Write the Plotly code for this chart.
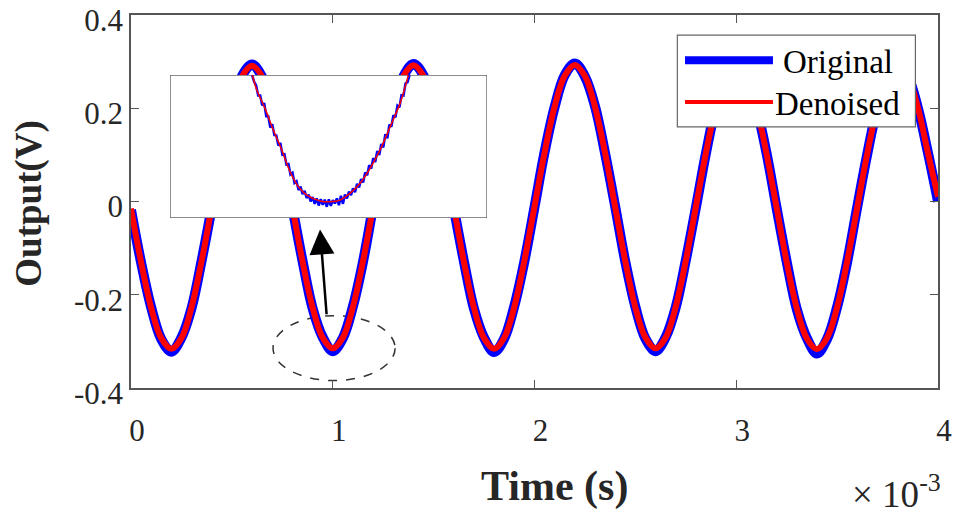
import plotly.graph_objects as go

# main trace, time in ms (axis shows x 10^-3 s)
time_ms = [
    0.00, 0.05, 0.10, 0.15, 0.20, 0.25, 0.30, 0.35, 0.40, 0.45, 0.50, 0.55, 0.60, 0.65, 0.70, 0.75,
    0.80, 0.85, 0.90, 0.95, 1.00, 1.05, 1.10, 1.15, 1.20, 1.25, 1.30, 1.35, 1.40, 1.45, 1.50, 1.55,
    1.60, 1.65, 1.70, 1.75, 1.80, 1.85, 1.90, 1.95, 2.00, 2.05, 2.10, 2.15, 2.20, 2.25, 2.30, 2.35,
    2.40, 2.45, 2.50, 2.55, 2.60, 2.65, 2.70, 2.75, 2.80, 2.85, 2.90, 2.95, 3.00, 3.05, 3.10, 3.15,
    3.20, 3.25, 3.30, 3.35, 3.40, 3.45, 3.50, 3.55, 3.60, 3.65, 3.70, 3.75, 3.80, 3.85, 3.90, 3.95,
    4.00,
]
original_v = [
    -0.018, -0.131, -0.227, -0.295, -0.322, -0.292, -0.229, -0.127, -0.014, 0.105, 0.201, 0.269, 0.294, 0.267, 0.204, 0.103,
    -0.013, -0.127, -0.229, -0.291, -0.321, -0.293, -0.225, -0.129, -0.011, 0.103, 0.204, 0.268, 0.295, 0.270, 0.202, 0.105,
    -0.014, -0.128, -0.230, -0.292, -0.323, -0.294, -0.224, -0.128, -0.012, 0.106, 0.203, 0.271, 0.296, 0.268, 0.204, 0.103,
    -0.011, -0.129, -0.226, -0.294, -0.321, -0.291, -0.227, -0.126, -0.013, 0.104, 0.204, 0.268, 0.295, 0.269, 0.201, 0.104,
    -0.014, -0.129, -0.231, -0.293, -0.326, -0.295, -0.226, -0.129, -0.011, 0.103, 0.203, 0.267, 0.294, 0.269, 0.201, 0.105,
    0.000,
]
denoised_v = [
    -0.015, -0.130, -0.228, -0.293, -0.316, -0.293, -0.227, -0.128, -0.013, 0.104, 0.202, 0.268, 0.291, 0.268, 0.203, 0.105,
    -0.012, -0.128, -0.227, -0.292, -0.315, -0.292, -0.226, -0.128, -0.012, 0.104, 0.203, 0.269, 0.292, 0.269, 0.203, 0.104,
    -0.012, -0.129, -0.228, -0.293, -0.316, -0.292, -0.226, -0.127, -0.011, 0.105, 0.204, 0.270, 0.293, 0.269, 0.203, 0.104,
    -0.012, -0.128, -0.227, -0.292, -0.315, -0.292, -0.226, -0.127, -0.011, 0.105, 0.203, 0.269, 0.292, 0.268, 0.202, 0.103,
    -0.013, -0.130, -0.229, -0.294, -0.317, -0.293, -0.227, -0.128, -0.012, 0.104, 0.202, 0.268, 0.291, 0.268, 0.202, 0.104,
    0.010,
]

# zoomed inset (valley around t = 1 ms)
inset_time_ms = [
    0.60, 0.61, 0.62, 0.63, 0.64, 0.65, 0.66, 0.67, 0.68, 0.69, 0.70, 0.71, 0.72, 0.73, 0.74, 0.75,
    0.76, 0.77, 0.78, 0.79, 0.80, 0.81, 0.82, 0.83, 0.84, 0.85, 0.86, 0.87, 0.88, 0.89, 0.90, 0.91,
    0.92, 0.93, 0.94, 0.95, 0.96, 0.97, 0.98, 0.99, 1.00, 1.01, 1.02, 1.03, 1.04, 1.05, 1.06, 1.07,
    1.08, 1.09, 1.10, 1.11, 1.12, 1.13, 1.14, 1.15, 1.16, 1.17, 1.18, 1.19, 1.20, 1.21, 1.22, 1.23,
    1.24, 1.25, 1.26, 1.27, 1.28, 1.29, 1.30, 1.31, 1.32, 1.33, 1.34, 1.35, 1.36, 1.37, 1.38,
]
inset_original_v = [
    0.290, 0.258, 0.240, 0.192, 0.192, 0.146, 0.156, 0.094, 0.094, 0.040, 0.056, 0.004, 0.002, -0.046, -0.034, -0.090,
    -0.088, -0.136, -0.134, -0.184, -0.176, -0.224, -0.216, -0.258, -0.242, -0.278, -0.262, -0.296, -0.280, -0.312, -0.292, -0.324,
    -0.298, -0.332, -0.302, -0.328, -0.304, -0.338, -0.302, -0.334, -0.306, -0.322, -0.298, -0.330, -0.286, -0.324, -0.280, -0.298,
    -0.266, -0.282, -0.250, -0.268, -0.228, -0.246, -0.206, -0.222, -0.174, -0.188, -0.140, -0.156, -0.106, -0.124, -0.072, -0.091,
    -0.039, -0.054, 0.008, -0.011, 0.054, 0.044, 0.098, 0.089, 0.144, 0.136, 0.194, 0.192, 0.250, 0.256, 0.290,
]
inset_denoised_time_ms = [
    0.601, 0.623, 0.664, 0.705, 0.747, 0.788, 0.829, 0.871, 0.937,
    0.986, 1.036, 1.085, 1.135, 1.185, 1.234, 1.284, 1.333, 1.374,
]
inset_denoised_v = [
    0.290, 0.219, 0.131, 0.028, -0.067, -0.171, -0.242, -0.282, -0.310,
    -0.314, -0.306, -0.274, -0.226, -0.154, -0.067, 0.044, 0.155, 0.290,
]

x_ticks = [0, 1, 2, 3, 4]
y_ticks = [0.4, 0.2, 0, -0.2, -0.4]
y_tick_text = ['0.4', '0.2', '0', '-0.2', '-0.4']
series_names = ['Original', 'Denoised']

SERIF = 'Liberation Serif'
BLUE = '#0000ff'
RED = '#ff0000'
AXIS_GREY = '#555555'
TEXT_GREY = '#262626'

fig = go.Figure()

fig.add_trace(go.Scatter(x=time_ms, y=original_v, mode='lines', name=series_names[0],
                         line=dict(color=BLUE, width=10, shape='spline'), showlegend=False))
fig.add_trace(go.Scatter(x=time_ms, y=denoised_v, mode='lines', name=series_names[1],
                         line=dict(color=RED, width=6, shape='spline'), showlegend=False))

fig.add_trace(go.Scatter(x=inset_time_ms, y=inset_original_v, mode='lines', xaxis='x2', yaxis='y2',
                         line=dict(color=BLUE, width=2.5), showlegend=False))
fig.add_trace(go.Scatter(x=inset_denoised_time_ms, y=inset_denoised_v, mode='lines', xaxis='x2', yaxis='y2',
                         line=dict(color=RED, width=1.5, shape='spline'), showlegend=False))

tick_font = dict(family=SERIF, size=31, color=TEXT_GREY)
axis_common = dict(ticks='inside', ticklen=8, tickwidth=1.2, tickcolor=AXIS_GREY,
                   showline=True, linecolor=AXIS_GREY, linewidth=1.5, mirror='ticks',
                   showgrid=False, zeroline=False, tickfont=tick_font, automargin=False,
                   ticklabeloverflow='allow')
hidden_axis = dict(showline=False, showgrid=False, zeroline=False, showticklabels=False, ticks='',
                   automargin=False)

# the page body adds an 8px margin, so the figure is 8px smaller and the margins shifted
fig.update_layout(
    template='none',
    width=952, height=502,
    margin=dict(l=123, r=22, t=7, b=122, autoexpand=False),
    paper_bgcolor='white', plot_bgcolor='white',
    showlegend=False,
    xaxis=dict(range=[0, 4], tickvals=x_ticks, ticklabelstandoff=14, ticklabelshift=6, **axis_common),
    yaxis=dict(range=[-0.4, 0.4], tickvals=y_ticks, ticktext=y_tick_text,
               ticklabelstandoff=0, ticklabelshift=5, **axis_common),
    xaxis2=dict(domain=[0.0483, 0.4412], range=[0.193, 1.764], anchor='y2', **hidden_axis),
    yaxis2=dict(domain=[0.456, 0.839], range=[-0.391, 0.29], anchor='x2', **hidden_axis),
)

# white inset panel, drawn in the inset subplot so it hides the main curves
fig.add_shape(type='rect', xref='x2', yref='y2', x0=0.193, x1=1.764, y0=-0.391, y1=0.29,
              fillcolor='white', line=dict(color='#666666', width=1.5), layer='below')
# dashed ellipse marking the zoomed valley
fig.add_shape(type='circle', xref='x', yref='y', x0=0.704, x1=1.309, y0=-0.384, y1=-0.245,
              line=dict(color='#333333', width=1.5, dash='dash'), layer='below')
fig.add_annotation(x=0.937, y=-0.060, ax=0.970, ay=-0.245, xref='x', yref='y', axref='x', ayref='y',
                   text='', showarrow=True, arrowhead=2, arrowsize=2, arrowwidth=2.5, arrowcolor='black')

# legend box drawn by hand (MATLAB-style long line samples)
fig.add_shape(type='rect', xref='paper', yref='paper', x0=0.677, x1=0.972, y0=0.700, y1=0.946,
              fillcolor='white', line=dict(color='#666666', width=1.2), layer='above')
fig.add_shape(type='line', xref='paper', yref='paper', x0=0.6865, x1=0.7955, y0=0.879, y1=0.879,
              line=dict(color=BLUE, width=8), layer='above')
fig.add_shape(type='line', xref='paper', yref='paper', x0=0.6865, x1=0.7955, y0=0.767, y1=0.767,
              line=dict(color=RED, width=4), layer='above')
legend_font = dict(family=SERIF, size=33, color='black')
fig.add_annotation(x=0.805, y=0.874, xref='paper', yref='paper', text=series_names[0], showarrow=False,
                   xanchor='left', yanchor='middle', font=legend_font)
fig.add_annotation(x=0.796, y=0.762, xref='paper', yref='paper', text=series_names[1], showarrow=False,
                   xanchor='left', yanchor='middle', font=legend_font)

# axis titles
fig.add_annotation(x=-0.126, y=0.495, xref='paper', yref='paper', text='<b>Output(V)</b>',
                   textangle=-90, showarrow=False, xanchor='center', yanchor='middle',
                   font=dict(family=SERIF, size=37, color=TEXT_GREY))
fig.add_annotation(x=0.525, y=-0.265, xref='paper', yref='paper', text='<b>Time (s)</b>',
                   showarrow=False, xanchor='center', yanchor='middle',
                   font=dict(family=SERIF, size=42, color=TEXT_GREY))
fig.add_annotation(x=1.006, y=-0.278, xref='paper', yref='paper', text='\u00d7 10<sup>-3</sup>',
                   xanchor='right', yanchor='middle', showarrow=False,
                   font=dict(family=SERIF, size=37, color=TEXT_GREY))

fig.write_html('out.html')
